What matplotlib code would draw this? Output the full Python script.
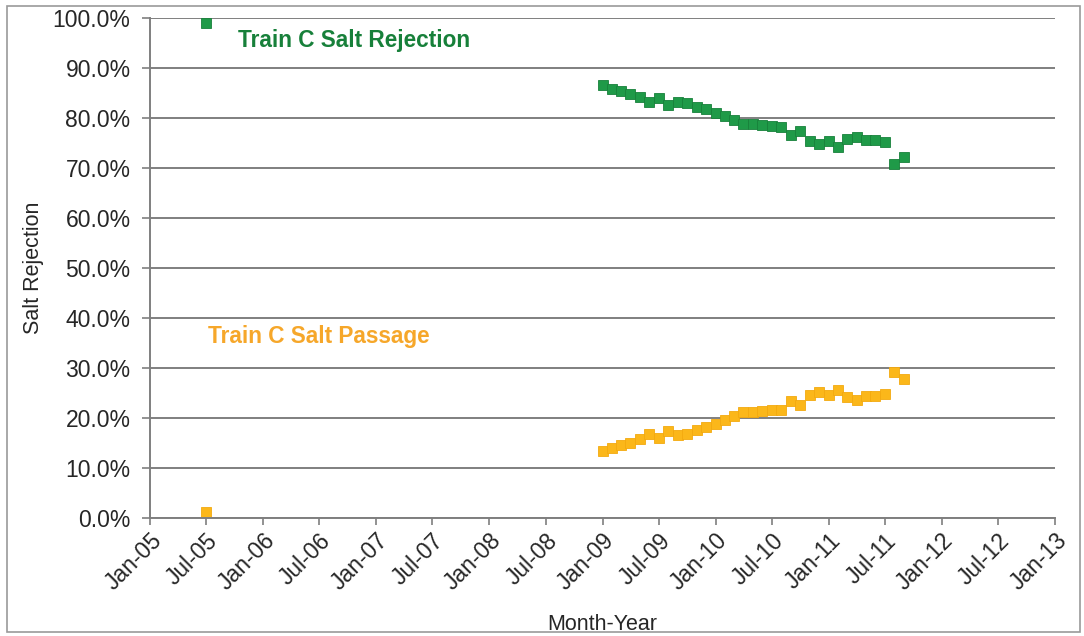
import matplotlib
matplotlib.use("Agg")
import matplotlib.pyplot as plt
import matplotlib.dates as mdates
from matplotlib.patches import Rectangle
from matplotlib.ticker import MultipleLocator, FuncFormatter
import pandas as pd

plt.rcParams['font.family'] = ['Liberation Sans', 'DejaVu Sans']

# early single reading
early_month = ["2005-07-01"]
early_rejection = [99.0]
early_passage = [1.2]

# monthly readings Jan-09 .. Sep-11
months = ["2009-01-01", "2009-02-01", "2009-03-01", "2009-04-01", "2009-05-01", "2009-06-01",
          "2009-07-01", "2009-08-01", "2009-09-01", "2009-10-01", "2009-11-01", "2009-12-01",
          "2010-01-01", "2010-02-01", "2010-03-01", "2010-04-01", "2010-05-01", "2010-06-01",
          "2010-07-01", "2010-08-01", "2010-09-01", "2010-10-01", "2010-11-01", "2010-12-01",
          "2011-01-01", "2011-02-01", "2011-03-01", "2011-04-01", "2011-05-01", "2011-06-01",
          "2011-07-01", "2011-08-01", "2011-09-01"]

rejection = [86.6, 85.9, 85.4, 84.9, 84.2, 83.2, 84.0, 82.6, 83.3, 83.1, 82.3, 81.8,
             81.1, 80.4, 79.6, 78.8, 78.8, 78.6, 78.4, 78.3, 76.6, 77.4, 75.4, 74.8,
             75.4, 74.3, 75.8, 76.3, 75.6, 75.6, 75.2, 70.8, 72.2]

passage = [13.4, 14.1, 14.6, 15.1, 15.8, 16.8, 16.0, 17.4, 16.7, 16.9, 17.7, 18.2,
           18.9, 19.6, 20.4, 21.2, 21.2, 21.4, 21.6, 21.7, 23.4, 22.6, 24.6, 25.2,
           24.6, 25.7, 24.2, 23.7, 24.4, 24.4, 24.8, 29.2, 27.8]

xtick_dates = ["2005-01-01", "2005-07-01", "2006-01-01", "2006-07-01", "2007-01-01",
               "2007-07-01", "2008-01-01", "2008-07-01", "2009-01-01", "2009-07-01",
               "2010-01-01", "2010-07-01", "2011-01-01", "2011-07-01", "2012-01-01",
               "2012-07-01", "2013-01-01"]

green = "#1f9a48"
green_text = "#17803a"
orange = "#fbb71a"
orange_text = "#f6a72a"
grey = "#7f7f7f"
txt = "#262626"

fig = plt.figure(figsize=(10.84, 6.36), dpi=100)
ax = fig.add_axes([0.1384, 0.1855, 0.8349, 0.7862])

x_all = pd.to_datetime(early_month + months)
ax.plot(x_all, early_rejection + rejection, ls="none", marker="s", ms=7.6,
        color=green, mec="#17803a", mew=0.6)
ax.plot(x_all, early_passage + passage, ls="none", marker="s", ms=7.6,
        color=orange, mec="#f3a90f", mew=0.6)

ticks = pd.to_datetime(xtick_dates)
ax.set_xlim(ticks[0], ticks[-1])
ax.set_xticks(ticks)
ax.xaxis.set_major_formatter(mdates.DateFormatter("%b-%y"))
ax.set_ylim(0, 100)
ax.yaxis.set_major_locator(MultipleLocator(10))
ax.yaxis.set_major_formatter(FuncFormatter(lambda v, p: "%.1f%%" % v))

ax.grid(axis="y", color=grey, lw=1.4)
ax.set_axisbelow(True)
for s in ["top", "right"]:
    ax.spines[s].set_visible(False)
for s in ["left", "bottom"]:
    ax.spines[s].set_color(grey)
    ax.spines[s].set_linewidth(1.4)

ax.tick_params(axis="y", length=6, width=1.2, color=grey, labelsize=16.5, labelcolor=txt, pad=8)
ax.tick_params(axis="x", length=5, width=1.2, color=grey, labelsize=16.5, labelcolor=txt, pad=3)
plt.setp(ax.get_xticklabels(), rotation=45, ha="right", rotation_mode="anchor")

ax.set_xlabel("Month-Year", fontsize=15.5, color=txt, labelpad=14)
ax.set_ylabel("Salt Rejection", fontsize=15.5, color=txt, labelpad=6)

ax.text(0.097, 0.955, "Train C Salt Rejection", transform=ax.transAxes,
        fontsize=16.3, fontweight="bold", color=green_text, va="center")
ax.text(0.064, 0.364, "Train C Salt Passage", transform=ax.transAxes,
        fontsize=16.3, fontweight="bold", color=orange_text, va="center")

# outer chart frame
fig.patches.append(Rectangle((7 / 1084, 4 / 636), 1073 / 1084, 626 / 636,
                             transform=fig.transFigure, fill=False,
                             edgecolor="#9a9a9a", lw=1.2))

fig.savefig("out.png", dpi=100)
